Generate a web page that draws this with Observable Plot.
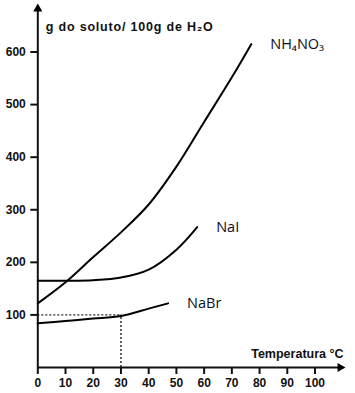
<!DOCTYPE html>
<html><head><meta charset="utf-8">
<script src="https://cdn.jsdelivr.net/npm/d3@7"></script>
<script src="https://cdn.jsdelivr.net/npm/@observablehq/plot@0.6"></script>
<style>body{margin:0;background:#fff}</style>
</head><body><div id="chart"></div>
<script>
// ---- data ----
const nh4no3Temp = [0, 10, 20, 30, 40, 50, 60, 70, 77];
const nh4no3Sol  = [122, 162, 210, 257, 310, 382, 467, 552, 615];
const naiTemp = [0, 10, 20, 30, 40, 50, 57.5];
const naiSol  = [165, 165, 166, 171, 186, 224, 267];
const nabrTemp = [0, 10, 20, 30, 40, 47];
const nabrSol  = [84, 88.5, 93, 98, 112, 122];
const seriesNames = ["NH₄NO₃", "NaI", "NaBr"];
const xTicks = [0, 10, 20, 30, 40, 50, 60, 70, 80, 90, 100];
const yTicks = [100, 200, 300, 400, 500, 600];
const refTemp = 30, refSol = 100;
const yTitle = "g do soluto/ 100g de H₂O";
const xTitle = "Temperatura °C";
const xMax = 111, yMax = 690;

const toRows = (ts, ss, name) => ts.map((t, i) => ({t, s: ss[i], name}));
const series = [
  toRows(nh4no3Temp, nh4no3Sol, seriesNames[0]),
  toRows(naiTemp, naiSol, seriesNames[1]),
  toRows(nabrTemp, nabrSol, seriesNames[2])
];
const ends = series.map(r => r[r.length - 1]);

const sans = "'Liberation Sans', Arial, sans-serif";
const svg = Plot.plot({
  width: 355, height: 393,
  marginLeft: 37.3, marginRight: 10, marginTop: 4.2, marginBottom: 26,
  style: {fontFamily: sans, background: "#fff", color: "#111"},
  x: {domain: [0, xMax], axis: null},
  y: {domain: [0, yMax], axis: null},
  marks: [
    Plot.ruleY([refSol], {x1: 0, x2: refTemp, stroke: "#222", strokeWidth: 1.4, strokeDasharray: "2,2"}),
    Plot.ruleX([refTemp], {y1: 0, y2: refSol, stroke: "#222", strokeWidth: 1.4, strokeDasharray: "2,2"}),
    Plot.axisX(xTicks, {anchor: "bottom", tickSize: 7, tickPadding: 4, strokeWidth: 2, fontSize: 12, fontWeight: "bold", fill: "#111", label: null}),
    Plot.axisY(yTicks, {anchor: "left", tickSize: 7, tickPadding: 5, strokeWidth: 2, fontSize: 12, fontWeight: "bold", fill: "#111", label: null}),
    Plot.ruleX([0], {y1: 0, y2: yMax - 6, strokeWidth: 2}),
    Plot.ruleY([0], {x1: 0, x2: xMax - 2, strokeWidth: 2}),
    Plot.dot([{x: 0, y: yMax}], {x: "x", y: "y", symbol: "triangle", r: 3.4, fill: "#000", stroke: null, dy: 4.1}),
    Plot.dot([{x: xMax, y: 0}], {x: "x", y: "y", symbol: "triangle", r: 3.4, fill: "#000", stroke: null, rotate: 90, dx: -5.3}),
    ...series.map(rows => Plot.line(rows, {x: "t", y: "s", curve: "catmull-rom", stroke: "#000", strokeWidth: 2})),
    Plot.text(ends, {x: "t", y: "s", text: "name", dx: 19, textAnchor: "start", fontSize: 14.5, fontFamily: "'Open Sans', sans-serif", fill: "#0d0d1a"}),
    Plot.text([yTitle], {frameAnchor: "top-left", dx: 8, dy: 22, textAnchor: "start", lineAnchor: "middle", fontWeight: "bold", fontSize: 12.5}),
    Plot.text([xTitle], {frameAnchor: "bottom-right", dx: -2, dy: -14, textAnchor: "end", lineAnchor: "middle", fontWeight: "bold", fontSize: 12.5})
  ]
});
d3.select(svg).selectAll("text").filter(function() { return this.textContent === yTitle; }).attr("letter-spacing", "0.8px");
document.getElementById("chart").append(svg);
</script></body></html>
